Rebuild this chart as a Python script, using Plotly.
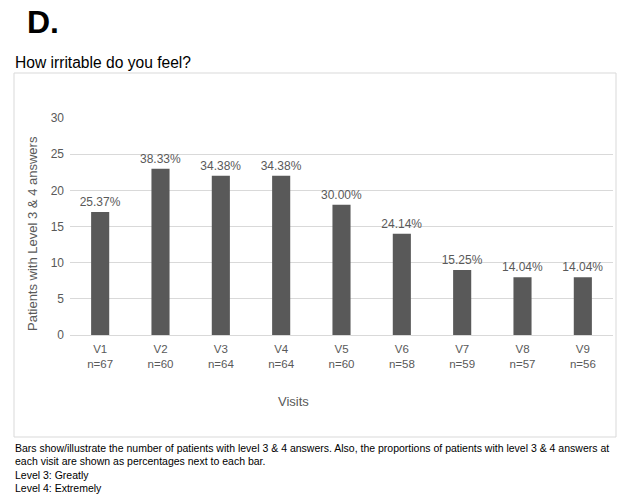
import plotly.graph_objects as go

visits = ["V1", "V2", "V3", "V4", "V5", "V6", "V7", "V8", "V9"]
n_values = [67, 60, 64, 64, 60, 58, 59, 57, 56]
patients = [17, 23, 22, 22, 18, 14, 9, 8, 8]
pct_labels = ["25.37%", "38.33%", "34.38%", "34.38%", "30.00%", "24.14%", "15.25%", "14.04%", "14.04%"]
y_ticks = [0, 5, 10, 15, 20, 25, 30]

W, H = 619, 495
L, R, T, B = 70, 613, 118, 335
def px(x):
    return (x - L) / (R - L)
def py(y):
    return (B - y) / (B - T)

FONT = "Liberation Sans, Arial, sans-serif"
GRAY = "#595959"

ticktext = [f"{v}<br>n={n}" for v, n in zip(visits, n_values)]

fig = go.Figure(go.Bar(
    x=visits, y=patients, text=pct_labels, textposition="outside",
    constraintext="none",
    textfont=dict(family=FONT, size=12, color=GRAY),
    marker=dict(color="#595959", line=dict(width=0)),
    cliponaxis=False, width=0.3,
))

fig.update_layout(
    width=W, height=H,
    margin=dict(l=L, r=W - R, t=T, b=H - B),
    paper_bgcolor="white", plot_bgcolor="white",
    showlegend=False,
    font=dict(family=FONT, color=GRAY),
    xaxis=dict(tickmode="array", tickvals=visits, ticktext=ticktext,
               tickfont=dict(size=11.5, color=GRAY), showgrid=False,
               showline=True, linecolor="#d9d9d9", linewidth=1, ticks="",
               ticklabelstandoff=3),
    yaxis=dict(range=[0, 30], tickvals=y_ticks, tickfont=dict(size=12, color=GRAY),
               showgrid=True, gridcolor="#d9d9d9", gridwidth=1, zeroline=False,
               ticks="", ticklabelstandoff=5),
)

fig.add_shape(type="rect", xref="paper", yref="paper",
              x0=px(14), x1=px(616), y0=py(437), y1=py(73),
              line=dict(color="#d9d9d9", width=1), layer="below")

ann = [
    dict(text="<b>D.</b>", x=px(25), y=py(22), size=32, color="black", xanchor="left"),
    dict(text="How irritable do you feel?", x=px(13), y=py(62), size=15.6, color="black", xanchor="left"),
    dict(text="Visits", x=px(293), y=py(401), size=13, color=GRAY, xanchor="center"),
    dict(text="Bars show/illustrate the number of patients with level 3 & 4 answers. Also, the proportions of patients with level 3 & 4 answers at",
         x=px(13), y=py(448), size=10.5, color="black", xanchor="left"),
    dict(text="each visit are shown as percentages next to each bar.",
         x=px(13), y=py(461), size=10.5, color="black", xanchor="left"),
    dict(text="Level 3: Greatly", x=px(13), y=py(475), size=10.5, color="black", xanchor="left"),
    dict(text="Level 4: Extremely", x=px(13), y=py(488), size=10.5, color="black", xanchor="left"),
]
for a in ann:
    fig.add_annotation(text=a["text"], xref="paper", yref="paper", x=a["x"], y=a["y"],
                       xanchor=a["xanchor"], yanchor="middle", showarrow=False,
                       font=dict(family=FONT, size=a["size"], color=a["color"]))

fig.add_annotation(text="Patients with Level 3 & 4 answers", xref="paper", yref="paper",
                   x=px(32), y=py(234), textangle=-90, showarrow=False,
                   xanchor="center", yanchor="middle",
                   font=dict(family=FONT, size=13, color=GRAY))

fig.write_html("out.html")
